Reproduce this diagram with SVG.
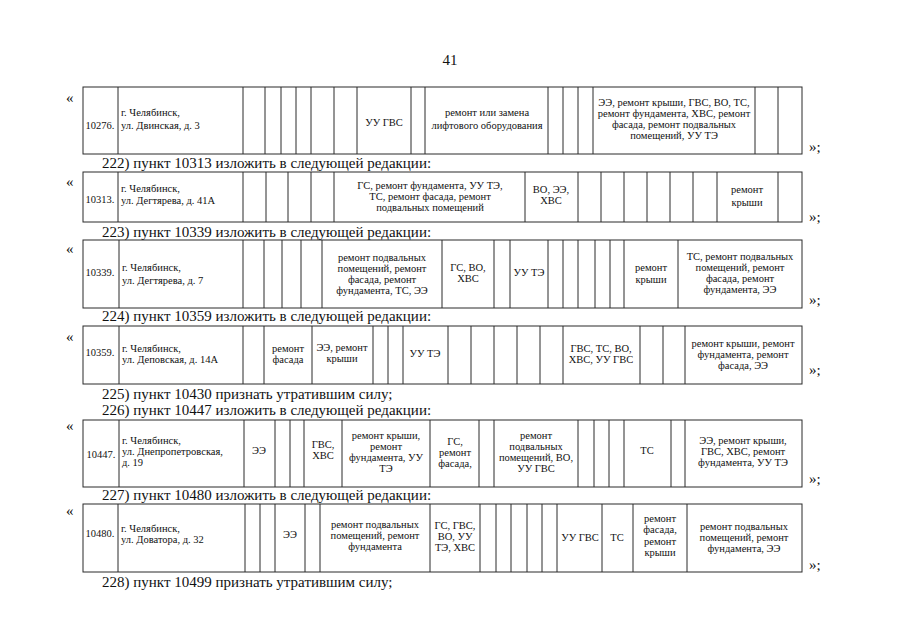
<svg xmlns="http://www.w3.org/2000/svg" width="905" height="640" viewBox="0 0 905 640">
<style>
.b{fill:none;stroke:#2a2a2a;stroke-width:1}
.t{font-family:"Liberation Serif","Times New Roman",serif;font-size:10.5px;fill:#111}
.c{text-anchor:middle}
.h{font-family:"Liberation Serif","Times New Roman",serif;font-size:15px;fill:#111}
.q{font-family:"Liberation Serif","Times New Roman",serif;font-size:15px;fill:#111}
</style>
<rect width="905" height="640" fill="#fff"/>
<text class="h" x="450" y="65" text-anchor="middle" font-size="14">41</text>

<g id="row-10276">
<text class="q" x="66" y="103">«</text>
<rect class="b" x="83" y="87" width="719" height="67"/>
<path class="b" d="M118 87V154M243 87V154M265 87V154M281 87V154M296 87V154M311 87V154M334 87V154M357 87V154M411 87V154M425 87V154M548 87V154M563 87V154M578 87V154M593 87V154M755 87V154M778 87V154"/>
<text class="t c" x="100" y="129">10276.</text>
<text class="t" x="121" y="116">г. Челябинск,</text>
<text class="t" x="121" y="129">ул. Двинская, д. 3</text>
<text class="t c" x="384" y="126">УУ ГВС</text>
<text class="t c" x="487" y="116">ремонт или замена</text>
<text class="t c" x="487" y="129">лифтового оборудования</text>
<text class="t c" x="674" y="106">ЭЭ, ремонт крыши, ГВС, ВО, ТС,</text>
<text class="t c" x="674" y="117">ремонт фундамента, ХВС, ремонт</text>
<text class="t c" x="674" y="128">фасада, ремонт подвальных</text>
<text class="t c" x="674" y="139">помещений, УУ ТЭ</text>
<text class="q" x="809" y="152">»;</text>
</g>

<text class="h" x="102" y="168">222) пункт 10313 изложить в следующей редакции:</text>

<g id="row-10313">
<text class="q" x="66" y="187">«</text>
<rect class="b" x="83" y="172" width="719" height="50"/>
<path class="b" d="M118 172V222M243 172V222M266 172V222M288 172V222M311 172V222M334 172V222M525 172V222M578 172V222M601 172V222M624 172V222M647 172V222M670 172V222M693 172V222M717 172V222M778 172V222"/>
<text class="t c" x="100" y="203">10313.</text>
<text class="t" x="121" y="192">г. Челябинск,</text>
<text class="t" x="121" y="204">ул. Дегтярева, д. 41А</text>
<text class="t c" x="430" y="189">ГС, ремонт фундамента, УУ ТЭ,</text>
<text class="t c" x="430" y="200">ТС, ремонт фасада, ремонт</text>
<text class="t c" x="430" y="211">подвальных помещений</text>
<text class="t c" x="551" y="193">ВО, ЭЭ,</text>
<text class="t c" x="551" y="204">ХВС</text>
<text class="t c" x="747" y="193">ремонт</text>
<text class="t c" x="747" y="206">крыши</text>
<text class="q" x="809" y="222">»;</text>
</g>

<text class="h" x="102" y="237">223) пункт 10339 изложить в следующей редакции:</text>

<g id="row-10339">
<text class="q" x="66" y="254">«</text>
<rect class="b" x="83" y="240" width="719" height="68"/>
<path class="b" d="M119 240V308M243 240V308M264 240V308M282 240V308M301 240V308M322 240V308M442 240V308M494 240V308M510 240V308M548 240V308M563 240V308M578 240V308M595 240V308M610 240V308M624 240V308M678 240V308"/>
<text class="t c" x="100" y="276">10339.</text>
<text class="t" x="122" y="271">г. Челябинск,</text>
<text class="t" x="122" y="284">ул. Дегтярева, д. 7</text>
<text class="t c" x="382" y="261">ремонт подвальных</text>
<text class="t c" x="382" y="272">помещений, ремонт</text>
<text class="t c" x="382" y="283">фасада, ремонт</text>
<text class="t c" x="382" y="294">фундамента, ТС, ЭЭ</text>
<text class="t c" x="468" y="271">ГС, ВО,</text>
<text class="t c" x="468" y="282">ХВС</text>
<text class="t c" x="529" y="276">УУ ТЭ</text>
<text class="t c" x="651" y="271">ремонт</text>
<text class="t c" x="651" y="283">крыши</text>
<text class="t c" x="740" y="260">ТС, ремонт подвальных</text>
<text class="t c" x="740" y="271">помещений, ремонт</text>
<text class="t c" x="740" y="282">фасада, ремонт</text>
<text class="t c" x="740" y="293">фундамента, ЭЭ</text>
<text class="q" x="809" y="305">»;</text>
</g>

<text class="h" x="102" y="321">224) пункт 10359 изложить в следующей редакции:</text>

<g id="row-10359">
<text class="q" x="66" y="342">«</text>
<rect class="b" x="83" y="326" width="719" height="58"/>
<path class="b" d="M119 326V384M243 326V384M264 326V384M312 326V384M373 326V384M388 326V384M403 326V384M448 326V384M471 326V384M494 326V384M517 326V384M540 326V384M563 326V384M640 326V384M663 326V384M685 326V384"/>
<text class="t c" x="100" y="356">10359.</text>
<text class="t" x="122" y="352">г. Челябинск,</text>
<text class="t" x="122" y="363">ул. Деповская, д. 14А</text>
<text class="t c" x="288" y="352">ремонт</text>
<text class="t c" x="288" y="363">фасада</text>
<text class="t c" x="342" y="351">ЭЭ, ремонт</text>
<text class="t c" x="342" y="362">крыши</text>
<text class="t c" x="425" y="357">УУ ТЭ</text>
<text class="t c" x="601" y="352">ГВС, ТС, ВО,</text>
<text class="t c" x="601" y="363">ХВС, УУ ГВС</text>
<text class="t c" x="743" y="347">ремонт крыши, ремонт</text>
<text class="t c" x="743" y="358">фундамента, ремонт</text>
<text class="t c" x="743" y="369">фасада, ЭЭ</text>
<text class="q" x="809" y="375">»;</text>
</g>

<text class="h" x="102" y="399">225) пункт 10430 признать утратившим силу;</text>
<text class="h" x="102" y="415">226) пункт 10447 изложить в следующей редакции:</text>

<g id="row-10447">
<text class="q" x="66" y="431">«</text>
<rect class="b" x="83" y="420" width="719" height="67"/>
<path class="b" d="M119 420V487M244 420V487M275 420V487M290 420V487M304 420V487M342 420V487M430 420V487M479 420V487M494 420V487M578 420V487M594 420V487M609 420V487M624 420V487M671 420V487M685 420V487"/>
<text class="t c" x="101" y="458">10447.</text>
<text class="t" x="122" y="444">г. Челябинск,</text>
<text class="t" x="122" y="455">ул. Днепропетровская,</text>
<text class="t" x="122" y="466">д. 19</text>
<text class="t c" x="259" y="454">ЭЭ</text>
<text class="t c" x="323" y="448">ГВС,</text>
<text class="t c" x="323" y="459">ХВС</text>
<text class="t c" x="386" y="439">ремонт крыши,</text>
<text class="t c" x="386" y="450">ремонт</text>
<text class="t c" x="386" y="461">фундамента, УУ</text>
<text class="t c" x="386" y="472">ТЭ</text>
<text class="t c" x="455" y="445">ГС,</text>
<text class="t c" x="455" y="456">ремонт</text>
<text class="t c" x="455" y="467">фасада,</text>
<text class="t c" x="536" y="439">ремонт</text>
<text class="t c" x="536" y="450">подвальных</text>
<text class="t c" x="536" y="461">помещений, ВО,</text>
<text class="t c" x="536" y="472">УУ ГВС</text>
<text class="t c" x="647" y="454">ТС</text>
<text class="t c" x="743" y="444">ЭЭ, ремонт крыши,</text>
<text class="t c" x="743" y="455">ГВС, ХВС, ремонт</text>
<text class="t c" x="743" y="466">фундамента, УУ ТЭ</text>
<text class="q" x="809" y="484">»;</text>
</g>

<text class="h" x="102" y="500">227) пункт 10480 изложить в следующей редакции:</text>

<g id="row-10480">
<text class="q" x="66" y="516">«</text>
<rect class="b" x="83" y="504" width="719" height="68"/>
<path class="b" d="M118 504V572M245 504V572M260 504V572M275 504V572M305 504V572M320 504V572M430 504V572M480 504V572M496 504V572M511 504V572M527 504V572M542 504V572M557 504V572M602 504V572M633 504V572M687 504V572"/>
<text class="t c" x="100" y="537">10480.</text>
<text class="t" x="121" y="532">г. Челябинск,</text>
<text class="t" x="121" y="543">ул. Доватора, д. 32</text>
<text class="t c" x="290" y="538">ЭЭ</text>
<text class="t c" x="375" y="528">ремонт подвальных</text>
<text class="t c" x="375" y="539">помещений, ремонт</text>
<text class="t c" x="375" y="550">фундамента</text>
<text class="t c" x="455" y="529">ГС, ГВС,</text>
<text class="t c" x="455" y="540">ВО, УУ</text>
<text class="t c" x="455" y="551">ТЭ, ХВС</text>
<text class="t c" x="580" y="541">УУ ГВС</text>
<text class="t c" x="617" y="541">ТС</text>
<text class="t c" x="660" y="522">ремонт</text>
<text class="t c" x="660" y="533">фасада,</text>
<text class="t c" x="660" y="545">ремонт</text>
<text class="t c" x="660" y="556">крыши</text>
<text class="t c" x="744" y="530">ремонт подвальных</text>
<text class="t c" x="744" y="541">помещений, ремонт</text>
<text class="t c" x="744" y="552">фундамента, ЭЭ</text>
<text class="q" x="809" y="570">»;</text>
</g>

<text class="h" x="102" y="587">228) пункт 10499 признать утратившим силу;</text>
</svg>
